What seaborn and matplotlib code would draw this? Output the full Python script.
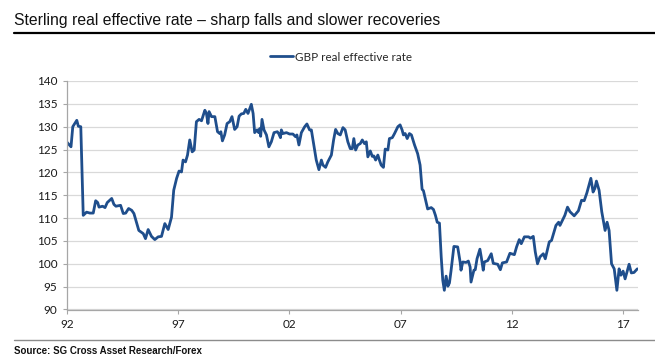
import matplotlib
matplotlib.use('Agg')
import matplotlib.pyplot as plt
import seaborn as sns
import pandas as pd

# ── Data ──────────────────────────────────────────────────────────────────────
years = [
    1992.00, 1992.18, 1992.26, 1992.44, 1992.51, 1992.62, 1992.73, 1992.88,
    1993.03, 1993.18, 1993.29, 1993.38, 1993.44, 1993.60, 1993.71, 1993.81,
    1994.01, 1994.11, 1994.20, 1994.41, 1994.53, 1994.64, 1994.77, 1994.91,
    1995.01, 1995.23, 1995.43, 1995.53, 1995.65, 1995.80, 1995.95, 1996.10,
    1996.25, 1996.40, 1996.55, 1996.70, 1996.80, 1996.93, 1997.04, 1997.15,
    1997.22, 1997.33, 1997.42, 1997.52, 1997.63, 1997.72, 1997.82, 1997.94,
    1998.05, 1998.20, 1998.27, 1998.34, 1998.39, 1998.50, 1998.65, 1998.77,
    1998.87, 1998.92, 1998.99, 1999.09, 1999.20, 1999.32, 1999.42, 1999.54,
    1999.65, 1999.74, 1999.84, 1999.95, 2000.04, 2000.14, 2000.29, 2000.37,
    2000.44, 2000.55, 2000.62, 2000.67, 2000.71, 2000.77, 2000.86, 2000.97,
    2001.08, 2001.19, 2001.31, 2001.46, 2001.52, 2001.60, 2001.64, 2001.71,
    2001.87, 2002.01, 2002.16, 2002.28, 2002.34, 2002.43, 2002.54, 2002.69,
    2002.79, 2002.91, 2002.99, 2003.09, 2003.21, 2003.33, 2003.44, 2003.51,
    2003.63, 2003.73, 2003.89, 2003.99, 2004.08, 2004.18, 2004.29, 2004.41,
    2004.51, 2004.63, 2004.74, 2004.83, 2004.90, 2004.98, 2005.08, 2005.19,
    2005.28, 2005.38, 2005.46, 2005.53, 2005.64, 2005.73, 2005.80, 2005.88,
    2005.98, 2006.05, 2006.13, 2006.23, 2006.31, 2006.43, 2006.50, 2006.63,
    2006.73, 2006.88, 2006.98, 2007.07, 2007.13, 2007.21, 2007.30, 2007.40,
    2007.49, 2007.63, 2007.77, 2007.88, 2007.97, 2008.03, 2008.22, 2008.38,
    2008.48, 2008.57, 2008.65, 2008.75, 2008.83, 2008.90, 2008.97, 2009.05,
    2009.13, 2009.20, 2009.27, 2009.40, 2009.57, 2009.68, 2009.72, 2009.80,
    2009.95, 2010.05, 2010.13, 2010.17, 2010.30, 2010.36, 2010.44, 2010.57,
    2010.63, 2010.72, 2010.77, 2010.92, 2011.08, 2011.17, 2011.37, 2011.49,
    2011.58, 2011.77, 2011.92, 2012.12, 2012.22, 2012.34, 2012.43, 2012.57,
    2012.76, 2012.84, 2012.97, 2013.06, 2013.16, 2013.27, 2013.42, 2013.51,
    2013.69, 2013.79, 2013.99, 2014.11, 2014.17, 2014.39, 2014.51, 2014.62,
    2014.81, 2015.00, 2015.14, 2015.26, 2015.38, 2015.56, 2015.66, 2015.74,
    2015.81, 2015.93, 2016.05, 2016.20, 2016.29, 2016.38, 2016.49, 2016.61,
    2016.73, 2016.83, 2016.91, 2017.01, 2017.10, 2017.28, 2017.38, 2017.50,
    2017.65,
]
gbp_reer = [
    126.6, 125.6, 130.0, 131.4, 130.1, 130.0, 110.6, 111.3,
    111.1, 111.1, 113.8, 113.4, 112.4, 112.6, 112.3, 113.4,
    114.3, 113.0, 112.6, 112.8, 111.0, 111.1, 112.1, 111.7,
    111.0, 107.3, 106.6, 105.5, 107.5, 106.0, 105.3, 105.9,
    106.0, 108.8, 107.5, 110.2, 116.1, 118.7, 120.3, 120.1,
    122.7, 122.3, 123.8, 127.1, 124.5, 124.9, 131.1, 131.6,
    131.3, 133.6, 132.9, 130.7, 133.3, 132.2, 132.2, 128.9,
    128.5, 128.9, 126.9, 128.2, 130.7, 131.1, 132.2, 129.4,
    130.0, 132.3, 132.8, 132.9, 133.8, 132.9, 134.9, 132.9,
    128.7, 129.3, 128.7, 129.6, 127.9, 131.6, 129.3, 128.2,
    125.6, 126.7, 128.7, 128.9, 128.5, 127.6, 129.3, 128.5,
    128.7, 128.4, 128.4, 127.8, 128.2, 126.0, 128.7, 130.0,
    130.6, 129.3, 129.3, 126.3, 122.7, 120.6, 122.7, 121.6,
    121.1, 122.3, 123.8, 127.1, 129.4, 128.5, 128.2, 129.8,
    129.3, 126.7, 125.2, 125.2, 127.4, 124.9, 126.0, 126.3,
    127.1, 126.3, 126.7, 123.4, 124.7, 123.5, 123.6, 122.7,
    123.8, 122.7, 121.6, 121.1, 125.1, 124.9, 127.4, 127.6,
    128.5, 130.0, 130.4, 129.3, 128.2, 128.5, 127.4, 128.5,
    128.2, 126.0, 124.1, 121.6, 116.3, 116.0, 112.0, 112.3,
    111.9, 110.6, 109.1, 108.9, 101.5, 96.4, 94.2, 97.3,
    95.1, 95.8, 98.4, 103.8, 103.7, 100.4, 98.6, 100.4,
    100.3, 100.6, 99.3, 96.0, 98.6, 98.7, 101.1, 103.2,
    101.5, 98.6, 100.4, 100.7, 102.2, 100.1, 99.9, 98.7,
    100.2, 100.4, 102.3, 102.0, 103.7, 105.3, 104.4, 105.9,
    105.9, 105.6, 106.0, 102.6, 100.0, 101.5, 102.2, 101.1,
    104.8, 105.1, 108.4, 109.1, 108.4, 110.6, 112.4, 111.4,
    110.5, 111.6, 113.9, 113.8, 115.5, 118.7, 115.7, 116.5,
    118.1, 116.1, 111.4, 107.3, 109.1, 107.3, 100.0, 98.9,
    94.2, 98.9, 97.5, 98.4, 96.7, 99.9, 98.0, 98.1,
    98.9,
]
x_ticks = [1992, 1997, 2002, 2007, 2012, 2017]
x_tick_labels = ['92', '97', '02', '07', '12', '17']
y_ticks = [90, 95, 100, 105, 110, 115, 120, 125, 130, 135, 140]

df = pd.DataFrame({'year': years, 'GBP real effective rate': gbp_reer})

# ── Plot ──────────────────────────────────────────────────────────────────────
sns.set_style('white')
plt.rcParams['font.family'] = ['Liberation Sans', 'DejaVu Sans']

LINE_COLOR = '#1f4e8c'
TICK_FONT = 'Lato'

fig = plt.figure(figsize=(6.55, 3.61), dpi=100)
ax = fig.add_axes([67 / 655, 1 - 309.5 / 361, (638 - 67) / 655, (309.5 - 81) / 361])

sns.lineplot(data=df, x='year', y='GBP real effective rate', ax=ax,
             color=LINE_COLOR, linewidth=2.0, label='GBP real effective rate')

ax.set_xlim(1992, 2017.68)
ax.set_ylim(90, 140)
ax.set_xticks(x_ticks)
ax.set_xticklabels(x_tick_labels, fontfamily=TICK_FONT, fontsize=8.5)
ax.set_yticks(y_ticks)
ax.set_yticklabels([str(v) for v in y_ticks], fontfamily=TICK_FONT, fontsize=8.5)
ax.set_xlabel('')
ax.set_ylabel('')

ax.grid(axis='y', color='#d9d9d9', linewidth=0.9)
ax.grid(axis='x', visible=False)
for side in ['top', 'right']:
    ax.spines[side].set_visible(False)
for side in ['left', 'bottom']:
    ax.spines[side].set_color('#a6a6a6')
    ax.spines[side].set_linewidth(0.9)
ax.tick_params(axis='both', which='major', length=3, width=0.8, color='#a6a6a6',
               pad=4, labelcolor='#1a1a1a', direction='out', bottom=True, left=True)

leg = ax.legend(loc='center', bbox_to_anchor=(0.48, 1.105), frameon=False,
                handlelength=2.0, handletextpad=0.15,
                prop={'family': TICK_FONT, 'size': 8.4})

# Title, rules and source
fig.text(14 / 655, 1 - 21 / 361, 'Sterling real effective rate – sharp falls and slower recoveries',
         fontsize=11.3, va='center', ha='left', color='#111111')
fig.add_artist(plt.Line2D([14 / 655, 1.0], [1 - 33 / 361, 1 - 33 / 361],
                          color='black', linewidth=1.6))
fig.add_artist(plt.Line2D([14 / 655, 1.0], [1 - 340 / 361, 1 - 340 / 361],
                          color='#8c8c8c', linewidth=1.0))
fig.text(14 / 655, 1 - 351 / 361, 'Source: SG Cross Asset Research/Forex',
         fontsize=7, va='center', ha='left', color='#111111', fontweight='bold')

plt.savefig('out.png', dpi=100)
plt.close()
